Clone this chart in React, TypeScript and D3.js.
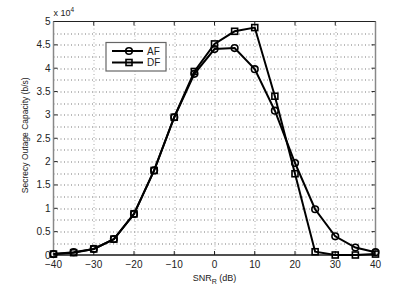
import React, { useEffect, useRef } from 'react';
import * as d3 from 'd3';

// SNR_R in dB
const snr = [-40, -35, -30, -25, -20, -15, -10, -5, 0, 5, 10, 15, 20, 25, 30, 35, 40];
// secrecy outage capacity, b/s
const af = [200, 600, 1300, 3400, 8800, 18100, 29500, 38800, 44100, 44300, 39800, 30900, 19700, 9800, 4000, 1600, 600];
const df = [200, 500, 1300, 3400, 8800, 18100, 29500, 39300, 45200, 47900, 48700, 34000, 17400, 700, 0, 0, 200];

const xTicks = [-40, -30, -20, -10, 0, 10, 20, 30, 40];
const yTicks = [0, 0.5, 1, 1.5, 2, 2.5, 3, 3.5, 4, 4.5, 5];

const App = () => {
  const svgRef = useRef<SVGSVGElement>(null);

  useEffect(() => {
    const svg = d3.select(svgRef.current);
    const width = 415;
    const height = 288;
    const margin = { top: 21.5, right: 39.5, bottom: 33, left: 53.5 };
    const innerWidth = width - margin.left - margin.right;
    const innerHeight = height - margin.top - margin.bottom;
    const font = 'Liberation Sans, Arial, Helvetica, sans-serif';

    const x = d3.scaleLinear().domain([-40, 40]).range([0, innerWidth]);
    const y = d3.scaleLinear().domain([0, 50000]).range([innerHeight, 0]);

    const g = svg
      .append('g')
      .attr('transform', `translate(${margin.left},${margin.top})`);

    g.append('rect')
      .attr('width', innerWidth)
      .attr('height', innerHeight)
      .attr('fill', 'white');

    // grid (dotted), y every 0.25e4, x every 10
    const yGrid = d3.range(0.25, 5, 0.25);
    g.selectAll('.ygrid')
      .data(yGrid)
      .enter()
      .append('line')
      .attr('x1', 0)
      .attr('x2', innerWidth)
      .attr('y1', (d) => Math.round(y(d * 1e4)) + 0.5)
      .attr('y2', (d) => Math.round(y(d * 1e4)) + 0.5)
      .attr('stroke', '#777')
      .attr('stroke-width', 1)
      .attr('stroke-dasharray', '1,2.5');

    g.selectAll('.xgrid')
      .data(xTicks.slice(1, -1))
      .enter()
      .append('line')
      .attr('x1', (d) => Math.round(x(d)) + 0.5)
      .attr('x2', (d) => Math.round(x(d)) + 0.5)
      .attr('y1', 0)
      .attr('y2', innerHeight)
      .attr('stroke', '#aaa')
      .attr('stroke-width', 1)
      .attr('stroke-dasharray', '1,2.5');

    // tick marks inside, on all four sides
    const tl = 4;
    xTicks.forEach((t) => {
      const px = x(t);
      g.append('line').attr('x1', px).attr('x2', px).attr('y1', innerHeight).attr('y2', innerHeight - tl).attr('stroke', '#222');
      g.append('line').attr('x1', px).attr('x2', px).attr('y1', 0).attr('y2', tl).attr('stroke', '#222');
    });
    yTicks.forEach((t) => {
      const py = y(t * 1e4);
      g.append('line').attr('x1', 0).attr('x2', tl).attr('y1', py).attr('y2', py).attr('stroke', '#222');
      g.append('line').attr('x1', innerWidth).attr('x2', innerWidth - tl).attr('y1', py).attr('y2', py).attr('stroke', '#222');
    });

    // axes box
    g.append('rect')
      .attr('width', innerWidth)
      .attr('height', innerHeight)
      .attr('fill', 'none')
      .attr('stroke', '#222')
      .attr('stroke-width', 1);
    g.append('line').attr('x1', 0).attr('x2', 0).attr('y1', 0).attr('y2', innerHeight).attr('stroke', '#888').attr('stroke-width', 1.5);
    g.append('line').attr('x1', innerWidth).attr('x2', innerWidth).attr('y1', 0).attr('y2', innerHeight).attr('stroke', '#888').attr('stroke-width', 1.5);
    g.append('line').attr('x1', 0).attr('x2', innerWidth).attr('y1', innerHeight).attr('y2', innerHeight).attr('stroke', '#111').attr('stroke-width', 1.2);

    // tick labels
    g.selectAll('.xlab')
      .data(xTicks)
      .enter()
      .append('text')
      .attr('x', (d) => x(d))
      .attr('y', innerHeight + 13)
      .attr('text-anchor', 'middle')
      .attr('font-family', font)
      .attr('font-size', 10)
      .attr('fill', '#222')
      .text((d) => (d < 0 ? '\u2212' + Math.abs(d) : String(d)));

    g.selectAll('.ylab')
      .data(yTicks)
      .enter()
      .append('text')
      .attr('x', -3)
      .attr('y', (d) => y(d * 1e4) + 3.5)
      .attr('text-anchor', 'end')
      .attr('font-family', font)
      .attr('font-size', 10)
      .attr('fill', '#222')
      .text((d) => String(d));

    // exponent
    const ex = g.append('text')
      .attr('x', 0)
      .attr('y', -6)
      .attr('font-family', font)
      .attr('font-size', 9)
      .attr('fill', '#222');
    ex.append('tspan').text('x 10');
    ex.append('tspan').attr('font-size', 6.5).attr('dy', -4).text('4');

    // axis titles
    const xt = g.append('text')
      .attr('x', innerWidth / 2)
      .attr('y', innerHeight + 26)
      .attr('text-anchor', 'middle')
      .attr('font-family', font)
      .attr('font-size', 9)
      .attr('fill', '#222');
    xt.append('tspan').text('SNR');
    xt.append('tspan').attr('font-size', 7).attr('dy', 3).text('R');
    xt.append('tspan').attr('dy', -3).text(' (dB)');

    g.append('text')
      .attr('transform', `translate(${-26},${innerHeight / 2 - 3}) rotate(-90)`)
      .attr('text-anchor', 'middle')
      .attr('font-family', font)
      .attr('font-size', 8.5)
      .attr('fill', '#222')
      .text('Secrecy Outage Capacity (b/s)');

    // series
    const line = d3
      .line<number>()
      .x((_, i) => x(snr[i]))
      .y((d) => y(d));

    const series = [
      { name: 'AF', values: af, marker: 'circle' },
      { name: 'DF', values: df, marker: 'square' },
    ];

    series.forEach((s) => {
      g.append('path')
        .datum(s.values)
        .attr('d', line)
        .attr('fill', 'none')
        .attr('stroke', '#000')
        .attr('stroke-width', 2);
    });

    const drawMarker = (sel, marker, cx, cy) => {
      if (marker === 'circle') {
        sel.append('circle')
          .attr('cx', cx)
          .attr('cy', cy)
          .attr('r', 3.3)
          .attr('fill', 'none')
          .attr('stroke', '#000')
          .attr('stroke-width', 1.6);
      } else {
        sel.append('rect')
          .attr('x', cx - 3)
          .attr('y', cy - 3)
          .attr('width', 6)
          .attr('height', 6)
          .attr('fill', 'none')
          .attr('stroke', '#000')
          .attr('stroke-width', 1.6);
      }
    };

    series.forEach((s) => {
      s.values.forEach((v, i) => drawMarker(g, s.marker, x(snr[i]), y(v)));
    });

    // legend
    const lg = svg.append('g').attr('transform', 'translate(106,42.5)');
    lg.append('rect')
      .attr('width', 60)
      .attr('height', 28.5)
      .attr('fill', 'white')
      .attr('stroke', '#666')
      .attr('stroke-width', 1.2);
    series.forEach((s, i) => {
      const ly = 8.5 + i * 11.5;
      lg.append('line')
        .attr('x1', 6)
        .attr('x2', 37)
        .attr('y1', ly)
        .attr('y2', ly)
        .attr('stroke', '#000')
        .attr('stroke-width', 2);
      drawMarker(lg, s.marker, 23, ly);
      lg.append('text')
        .attr('x', 41)
        .attr('y', ly + 3.5)
        .attr('font-family', font)
        .attr('font-size', 10)
        .attr('fill', '#222')
        .text(s.name);
    });

    return () => {
      svg.selectAll('*').remove();
    };
  }, []);

  return (
    <svg
      ref={svgRef}
      width={415}
      height={288}
      style={{ position: 'absolute', left: 0, top: 0, background: 'white' }}
    ></svg>
  );
};

export default App;
